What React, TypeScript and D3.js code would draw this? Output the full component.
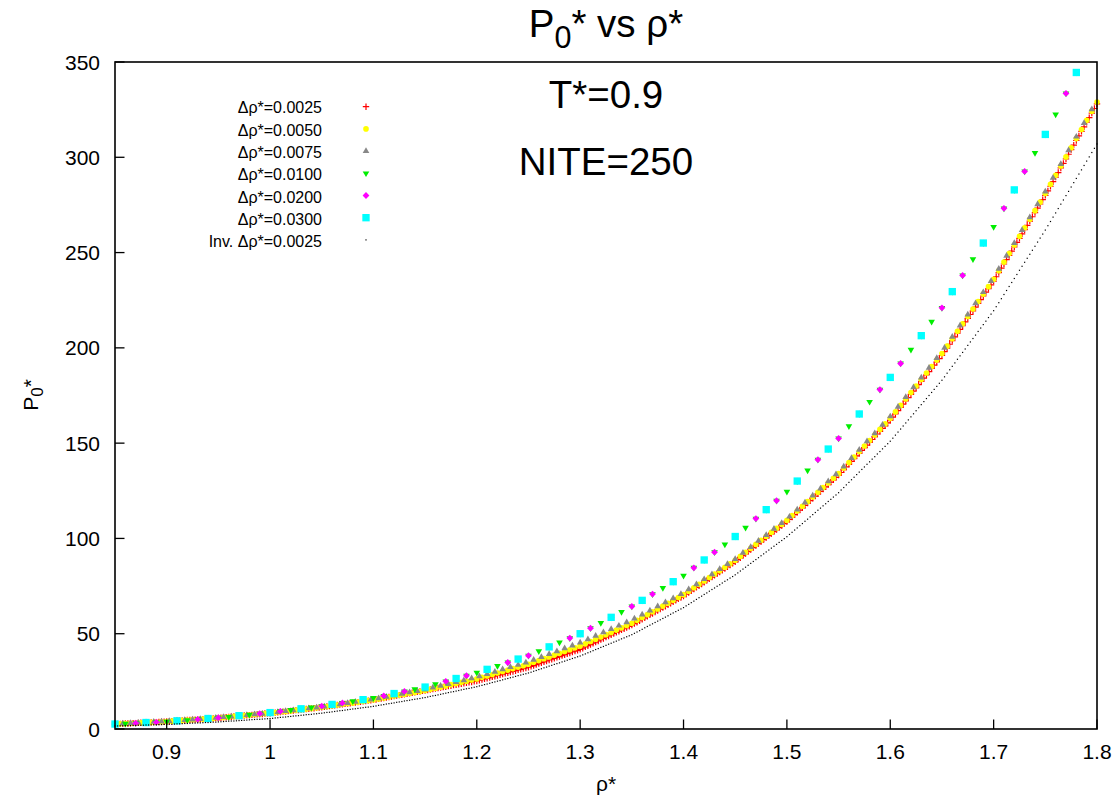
import React from 'react';
import * as d3 from 'd3';

// axis ranges and ticks
const RHO_START = 0.85;
const xDomain = [0.85, 1.8];
const yDomain = [0, 350];
const xTicks = [0.9, 1.0, 1.1, 1.2, 1.3, 1.4, 1.5, 1.6, 1.7, 1.8];
const xTickLabels = ['0.9', '1', '1.1', '1.2', '1.3', '1.4', '1.5', '1.6', '1.7', '1.8'];
const yTicks = [0, 50, 100, 150, 200, 250, 300, 350];
const subtitleLines = ['T*=0.9', 'NITE=250'];

// P0* values, one every Δρ* starting at ρ* = 0.85
const p0025 = [
  2.6, 2.7, 2.7, 2.8, 2.9, 2.9, 3.0, 3.1, 3.1, 3.2, 3.3, 3.3, 3.4, 3.5, 3.5, 3.6, 3.6, 3.7, 3.8, 3.8,
  3.9, 4.0, 4.1, 4.2, 4.3, 4.4, 4.5, 4.6, 4.7, 4.8, 4.9, 4.9, 5.0, 5.1, 5.2, 5.3, 5.4, 5.5, 5.6, 5.7,
  5.8, 5.9, 6.1, 6.2, 6.3, 6.4, 6.6, 6.7, 6.8, 6.9, 7.1, 7.2, 7.3, 7.4, 7.6, 7.7, 7.8, 7.9, 8.1, 8.2,
  8.3, 8.5, 8.6, 8.8, 8.9, 9.1, 9.2, 9.4, 9.5, 9.7, 9.9, 10.0, 10.2, 10.3, 10.5, 10.6, 10.8, 10.9, 11.1, 11.2,
  11.4, 11.6, 11.8, 12.0, 12.2, 12.4, 12.6, 12.8, 13.0, 13.2, 13.4, 13.5, 13.7, 13.9, 14.1, 14.3, 14.5, 14.7, 14.9, 15.1,
  15.3, 15.5, 15.8, 16.0, 16.3, 16.5, 16.8, 17.0, 17.3, 17.5, 17.8, 18.0, 18.2, 18.5, 18.7, 19.0, 19.2, 19.5, 19.7, 20.0,
  20.2, 20.5, 20.7, 21.0, 21.2, 21.5, 21.7, 22.0, 22.2, 22.5, 22.7, 23.0, 23.2, 23.5, 23.7, 24.0, 24.2, 24.5, 24.7, 25.0,
  25.2, 25.6, 25.9, 26.3, 26.6, 27.0, 27.4, 27.7, 28.1, 28.4, 28.8, 29.2, 29.5, 29.9, 30.2, 30.6, 31.0, 31.3, 31.7, 32.0,
  32.4, 32.9, 33.3, 33.8, 34.3, 34.8, 35.2, 35.7, 36.2, 36.6, 37.1, 37.6, 38.0, 38.5, 39.0, 39.5, 39.9, 40.4, 40.9, 41.3,
  41.8, 42.4, 43.1, 43.7, 44.3, 45.0, 45.6, 46.2, 46.9, 47.5, 48.2, 48.8, 49.4, 50.1, 50.7, 51.3, 52.0, 52.6, 53.2, 53.9,
  54.5, 55.3, 56.0, 56.8, 57.6, 58.3, 59.1, 59.9, 60.6, 61.4, 62.2, 62.9, 63.7, 64.4, 65.2, 66.0, 66.7, 67.5, 68.3, 69.0,
  69.8, 70.7, 71.6, 72.5, 73.4, 74.3, 75.2, 76.1, 77.0, 77.9, 78.8, 79.7, 80.6, 81.5, 82.4, 83.3, 84.2, 85.1, 86.0, 86.9,
  87.8, 88.9, 89.9, 91.0, 92.0, 93.1, 94.1, 95.2, 96.2, 97.3, 98.3, 99.4, 100.4, 101.5, 102.5, 103.6, 104.6, 105.7, 106.7, 107.8,
  108.8, 110.0, 111.2, 112.5, 113.7, 114.9, 116.1, 117.3, 118.6, 119.8, 121.0, 122.2, 123.4, 124.7, 125.9, 127.1, 128.3, 129.5, 130.8, 132.0,
  133.2, 134.6, 136.1, 137.5, 139.0, 140.4, 141.8, 143.3, 144.7, 146.2, 147.6, 149.0, 150.5, 151.9, 153.4, 154.8, 156.2, 157.7, 159.1, 160.6,
  162.0, 163.7, 165.4, 167.1, 168.8, 170.5, 172.2, 173.9, 175.6, 177.3, 179.0, 180.7, 182.4, 184.1, 185.8, 187.5, 189.2, 190.9, 192.6, 194.3,
  196.0, 198.0, 199.9, 201.9, 203.8, 205.8, 207.7, 209.7, 211.6, 213.6, 215.5, 217.5, 219.4, 221.4, 223.3, 225.3, 227.2, 229.2, 231.1, 233.1,
  235.0, 237.3, 239.5, 241.8, 244.0, 246.3, 248.5, 250.8, 253.0, 255.3, 257.5, 259.8, 262.0, 264.3, 266.5, 268.8, 271.0, 273.3, 275.5, 277.8,
  280.0, 282.4, 284.8, 287.2, 289.6, 292.0, 294.4, 296.8, 299.2, 301.6, 304.0, 306.4, 308.8, 311.2, 313.6, 316.0, 318.4, 320.8, 323.2, 325.6,
  328.0,
];

const p0050 = [
  2.6, 2.7, 2.9, 3.0, 3.1, 3.3, 3.4, 3.5, 3.6, 3.8,
  3.9, 4.1, 4.3, 4.5, 4.7, 4.9, 5.0, 5.2, 5.4, 5.6,
  5.8, 6.1, 6.3, 6.6, 6.8, 7.1, 7.3, 7.6, 7.8, 8.1,
  8.3, 8.6, 8.9, 9.2, 9.5, 9.9, 10.2, 10.5, 10.8, 11.1,
  11.4, 11.8, 12.2, 12.6, 13.0, 13.4, 13.7, 14.1, 14.5, 14.9,
  15.3, 15.8, 16.3, 16.8, 17.3, 17.8, 18.2, 18.7, 19.2, 19.7,
  20.2, 20.8, 21.4, 22.0, 22.6, 23.3, 23.9, 24.5, 25.1, 25.7,
  26.3, 27.1, 27.8, 28.6, 29.4, 30.2, 30.9, 31.7, 32.5, 33.2,
  34.0, 35.0, 35.9, 36.9, 37.8, 38.8, 39.7, 40.7, 41.6, 42.6,
  43.5, 44.7, 45.9, 47.1, 48.3, 49.5, 50.7, 51.9, 53.1, 54.3,
  55.5, 57.0, 58.5, 60.0, 61.5, 63.0, 64.5, 66.0, 67.5, 69.0,
  70.5, 72.3, 74.1, 75.9, 77.7, 79.5, 81.3, 83.1, 84.9, 86.7,
  88.5, 90.6, 92.7, 94.8, 96.9, 99.0, 101.1, 103.2, 105.3, 107.4,
  109.5, 112.0, 114.4, 116.9, 119.3, 121.8, 124.2, 126.7, 129.1, 131.6,
  134.0, 136.9, 139.8, 142.7, 145.6, 148.5, 151.4, 154.3, 157.2, 160.1,
  163.0, 166.4, 169.8, 173.2, 176.6, 180.0, 183.4, 186.8, 190.2, 193.6,
  197.0, 200.9, 204.8, 208.7, 212.6, 216.5, 220.4, 224.3, 228.2, 232.1,
  236.0, 240.5, 245.0, 249.5, 254.0, 258.5, 263.0, 267.5, 272.0, 276.5,
  281.0, 285.8, 290.6, 295.4, 300.2, 305.0, 309.8, 314.6, 319.4, 324.2,
  329.0,
];

const p0075 = [
  2.7, 2.9, 3.1, 3.3, 3.5, 3.7, 3.9,
  4.1, 4.4, 4.7, 5.0, 5.2, 5.5, 5.8,
  6.2, 6.5, 6.9, 7.3, 7.7, 8.0,
  8.4, 8.9, 9.4, 9.8, 10.3, 10.8, 11.3,
  11.8, 12.4, 13.0, 13.6, 14.2, 14.8, 15.4,
  16.1, 16.9, 17.6, 18.4, 19.2, 19.9,
  20.7, 21.7, 22.7, 23.6, 24.6, 25.6, 26.6,
  27.6, 28.8, 30.0, 31.3, 32.5, 33.7, 34.9,
  36.3, 37.8, 39.3, 40.8, 42.3, 43.8,
  45.3, 47.1, 48.9, 50.7, 52.4, 54.2, 56.0,
  57.9, 60.1, 62.2, 64.4, 66.5, 68.6, 70.8,
  73.3, 75.9, 78.6, 81.2, 83.9, 86.5,
  89.2, 92.4, 95.5, 98.7, 101.8, 105.0, 108.1,
  111.4, 115.1, 118.8, 122.5, 126.2, 129.9, 133.6,
  137.7, 142.1, 146.5, 150.9, 155.2, 159.6,
  164.0, 169.1, 174.2, 179.3, 184.4, 189.5, 194.6,
  200.0, 205.8, 211.7, 217.5, 223.4, 229.2, 235.1,
  241.5, 248.3, 255.0, 261.8, 268.5, 275.3,
  282.0, 289.2, 296.4, 303.6, 310.8, 318.0, 325.2,
];

const p0100 = [
  2.6, 2.8, 3.1, 3.4, 3.6,
  3.9, 4.3, 4.7, 5.1, 5.5,
  5.9, 6.4, 7.0, 7.5, 8.1,
  8.6, 9.3, 10.0, 10.6, 11.3,
  12.0, 12.9, 13.7, 14.6, 15.4,
  16.3, 17.4, 18.6, 19.7, 20.9,
  22.0, 23.5, 25.0, 26.5, 28.0,
  29.5, 31.3, 33.1, 34.9, 36.7,
  38.5, 40.8, 43.1, 45.4, 47.7,
  50.0, 52.9, 55.7, 58.6, 61.4,
  64.3, 67.5, 70.8, 74.0, 77.3,
  80.5, 84.6, 88.7, 92.8, 96.9,
  101.0, 105.7, 110.4, 115.1, 119.8,
  124.5, 130.1, 135.7, 141.3, 146.9,
  152.5, 158.9, 165.3, 171.7, 178.1,
  184.5, 191.8, 199.1, 206.4, 213.7,
  221.0, 229.5, 238.0, 246.5, 255.0,
  263.5, 273.2, 282.9, 292.6, 302.3,
  312.0, 322.5, 333.5, 344.5,
];

const p0200 = [
  2.6, 3.1, 3.6, 4.3, 5.1, 5.9, 7.0, 8.1, 9.3, 10.6,
  12.0, 13.7, 15.4, 17.4, 19.7, 22.0, 25.0, 28.0, 31.3, 34.9,
  38.5, 43.1, 47.7, 52.9, 58.6, 64.3, 70.8, 77.3, 84.6, 92.8,
  101.0, 110.4, 119.8, 130.1, 141.3, 152.5, 165.3, 178.1, 191.8, 206.4,
  221.0, 238.0, 255.0, 273.2, 292.6, 312.0, 333.5,
];

const p0300 = [
  2.6, 3.4, 4.3, 5.5, 7.0, 8.6, 10.6, 12.9, 15.4, 18.6,
  22.0, 26.5, 31.3, 36.7, 43.1, 50.0, 58.6, 67.5, 77.3, 88.7,
  101.0, 115.1, 130.1, 146.9, 165.3, 184.5, 206.4, 229.5, 255.0, 282.9,
  312.0, 344.5,
];

const pInv0025 = [
  1.6, 1.6, 1.7, 1.7, 1.8, 1.8, 1.8, 1.9, 1.9, 2.0, 2.0, 2.0, 2.1, 2.1, 2.2, 2.2, 2.2, 2.3, 2.3, 2.4,
  2.4, 2.5, 2.5, 2.6, 2.7, 2.7, 2.8, 2.9, 2.9, 3.0, 3.1, 3.1, 3.2, 3.2, 3.3, 3.4, 3.4, 3.5, 3.6, 3.6,
  3.7, 3.8, 3.9, 4.0, 4.1, 4.2, 4.2, 4.3, 4.4, 4.5, 4.6, 4.7, 4.8, 4.9, 5.0, 5.1, 5.1, 5.2, 5.3, 5.4,
  5.5, 5.6, 5.8, 5.9, 6.1, 6.2, 6.3, 6.5, 6.6, 6.8, 6.9, 7.0, 7.2, 7.3, 7.5, 7.6, 7.7, 7.9, 8.0, 8.2,
  8.3, 8.5, 8.7, 8.8, 9.0, 9.2, 9.4, 9.6, 9.7, 9.9, 10.1, 10.3, 10.5, 10.6, 10.8, 11.0, 11.2, 11.4, 11.5, 11.7,
  11.9, 12.1, 12.4, 12.6, 12.8, 13.1, 13.3, 13.5, 13.7, 14.0, 14.2, 14.4, 14.7, 14.9, 15.1, 15.4, 15.6, 15.8, 16.0, 16.3,
  16.5, 16.8, 17.1, 17.4, 17.6, 17.9, 18.2, 18.5, 18.8, 19.1, 19.4, 19.6, 19.9, 20.2, 20.5, 20.8, 21.1, 21.3, 21.6, 21.9,
  22.2, 22.6, 22.9, 23.3, 23.6, 24.0, 24.4, 24.7, 25.1, 25.4, 25.8, 26.2, 26.5, 26.9, 27.2, 27.6, 28.0, 28.3, 28.7, 29.0,
  29.4, 29.8, 30.3, 30.7, 31.2, 31.6, 32.1, 32.5, 33.0, 33.4, 33.9, 34.3, 34.7, 35.2, 35.6, 36.1, 36.5, 37.0, 37.4, 37.9,
  38.3, 38.9, 39.4, 40.0, 40.5, 41.1, 41.7, 42.2, 42.8, 43.3, 43.9, 44.5, 45.0, 45.6, 46.1, 46.7, 47.3, 47.8, 48.4, 48.9,
  49.5, 50.2, 50.9, 51.6, 52.3, 53.1, 53.8, 54.5, 55.2, 55.9, 56.6, 57.3, 58.0, 58.7, 59.4, 60.2, 60.9, 61.6, 62.3, 63.0,
  63.7, 64.6, 65.4, 66.3, 67.1, 68.0, 68.9, 69.7, 70.6, 71.4, 72.3, 73.2, 74.0, 74.9, 75.7, 76.6, 77.5, 78.3, 79.2, 80.0,
  80.9, 81.9, 82.9, 83.9, 84.9, 85.9, 86.9, 87.9, 88.9, 89.9, 90.9, 91.9, 92.9, 93.9, 94.9, 95.9, 96.9, 97.9, 98.9, 99.9,
  100.9, 102.1, 103.2, 104.4, 105.5, 106.7, 107.8, 109.0, 110.1, 111.3, 112.5, 113.6, 114.8, 115.9, 117.1, 118.2, 119.4, 120.5, 121.7, 122.8,
  124.0, 125.4, 126.7, 128.1, 129.4, 130.8, 132.1, 133.5, 134.8, 136.2, 137.5, 138.9, 140.2, 141.6, 142.9, 144.3, 145.6, 147.0, 148.3, 149.7,
  151.0, 152.6, 154.2, 155.8, 157.4, 159.0, 160.6, 162.2, 163.8, 165.4, 167.0, 168.6, 170.2, 171.8, 173.4, 175.0, 176.6, 178.2, 179.8, 181.4,
  183.0, 184.8, 186.7, 188.5, 190.3, 192.1, 194.0, 195.8, 197.6, 199.4, 201.3, 203.1, 204.9, 206.7, 208.6, 210.4, 212.2, 214.0, 215.9, 217.7,
  219.5, 221.6, 223.7, 225.8, 228.0, 230.1, 232.2, 234.3, 236.4, 238.5, 240.7, 242.8, 244.9, 247.0, 249.1, 251.2, 253.3, 255.5, 257.6, 259.7,
  261.8, 264.1, 266.3, 268.6, 270.8, 273.1, 275.4, 277.6, 279.9, 282.1, 284.4, 286.7, 288.9, 291.2, 293.4, 295.7, 298.0, 300.2, 302.5, 304.7,
  307.0,
];

const seriesList = [
  { label: 'Δρ*=0.0025', step: 0.0025, values: p0025, shape: 'plus', color: '#ff0000' },
  { label: 'Δρ*=0.0050', step: 0.005, values: p0050, shape: 'circle', color: '#ffff00' },
  { label: 'Δρ*=0.0075', step: 0.0075, values: p0075, shape: 'triangle', color: '#888888' },
  { label: 'Δρ*=0.0100', step: 0.01, values: p0100, shape: 'triangleDown', color: '#00ee00' },
  { label: 'Δρ*=0.0200', step: 0.02, values: p0200, shape: 'diamond', color: '#ff00ff' },
  { label: 'Δρ*=0.0300', step: 0.03, values: p0300, shape: 'square', color: '#00ffff' },
  { label: 'Inv. Δρ*=0.0025', step: 0.0025, values: pInv0025, shape: 'dot', color: '#000000' },
];

const FONT = '"Liberation Sans", Arial, Helvetica, sans-serif';

const circlePath = d3.symbol(d3.symbolCircle, 25)();
const squarePath = d3.symbol(d3.symbolSquare, 54)();
const trianglePath = d3.symbol(d3.symbolTriangle, 19)();

function Marker({ shape, color, cx, cy }) {
  const t = `translate(${cx},${cy})`;
  switch (shape) {
    case 'plus':
      return <path transform={t} d="M-3.2,0H3.2M0,-3.2V3.2" stroke={color} strokeWidth={1.2} fill="none" />;
    case 'circle':
      return <path transform={t} d={circlePath} fill={color} />;
    case 'triangle':
      return <path transform={t} d={trianglePath} fill={color} />;
    case 'triangleDown':
      return <path transform={`${t} rotate(180)`} d={trianglePath} fill={color} />;
    case 'diamond':
      return <path transform={t} d="M0,-3.4L3.4,0L0,3.4L-3.4,0Z" fill={color} />;
    case 'square':
      return <path transform={t} d={squarePath} fill={color} />;
    default:
      return <rect x={cx - 0.6} y={cy - 0.6} width={1.2} height={1.2} fill={color} />;
  }
}

export default function App() {
  const width = 1118;
  const height = 802;
  const margin = { top: 62, right: 21, bottom: 73, left: 115 };

  const x = d3.scaleLinear().domain(xDomain).range([margin.left, width - margin.right]);
  const y = d3.scaleLinear().domain(yDomain).range([height - margin.bottom, margin.top]);

  const x0 = x.range()[0];
  const x1 = x.range()[1];
  const y0 = y.range()[0];
  const y1 = y.range()[1];
  const cx = (x0 + x1) / 2;
  const tickLen = 9.5;

  return (
    <svg width={width} height={height} style={{ position: 'absolute', left: 0, top: 0, background: '#fff' }} fontFamily={FONT}>
      <rect width={width} height={height} fill="#fff" />

      {/* data */}
      {seriesList.map((s) => (
        <g key={s.label}>
          {s.values.map((v, i) => (
            <Marker key={i} shape={s.shape} color={s.color} cx={x(RHO_START + i * s.step)} cy={y(v)} />
          ))}
        </g>
      ))}

      {/* border + ticks */}
      <rect x={x0} y={y1} width={x1 - x0} height={y0 - y1} fill="none" stroke="#000" strokeWidth={1.6} />
      {xTicks.map((t, i) => (
        <g key={'x' + t}>
          <line x1={x(t)} x2={x(t)} y1={y0} y2={y0 - tickLen} stroke="#000" strokeWidth={1.3} />
          <text x={x(t)} y={759} textAnchor="middle" fontSize={21}>{xTickLabels[i]}</text>
        </g>
      ))}
      {yTicks.map((t) => (
        <g key={'y' + t}>
          <line x1={x0} x2={x0 + tickLen} y1={y(t)} y2={y(t)} stroke="#000" strokeWidth={1.3} />
          <text x={100} y={y(t) + 7.5} textAnchor="end" fontSize={21}>{t}</text>
        </g>
      ))}

      {/* axis titles */}
      <text x={cx} y={791} textAnchor="middle" fontSize={21}>ρ*</text>
      <text transform={`translate(38,395) rotate(-90)`} textAnchor="middle" fontSize={21}>
        P<tspan fontSize={17} dy={5}>0</tspan><tspan dy={-5}>*</tspan>
      </text>

      {/* titles */}
      <text x={cx} y={36.7} textAnchor="middle" fontSize={38.5}>
        P<tspan fontSize={30.5} dy={11}>0</tspan><tspan dy={-11}>* vs ρ*</tspan>
      </text>
      {subtitleLines.map((l, i) => (
        <text key={l} x={cx} y={108 + i * 67} textAnchor="middle" fontSize={38.5}>{l}</text>
      ))}

      {/* key */}
      {seriesList.map((s, i) => (
        <g key={'k' + s.label}>
          <text x={322} y={113.3 + i * 22.3} textAnchor="end" fontSize={16}>{s.label}</text>
          <Marker shape={s.shape} color={s.color} cx={366} cy={106.7 + i * 22.2} />
        </g>
      ))}
    </svg>
  );
}
